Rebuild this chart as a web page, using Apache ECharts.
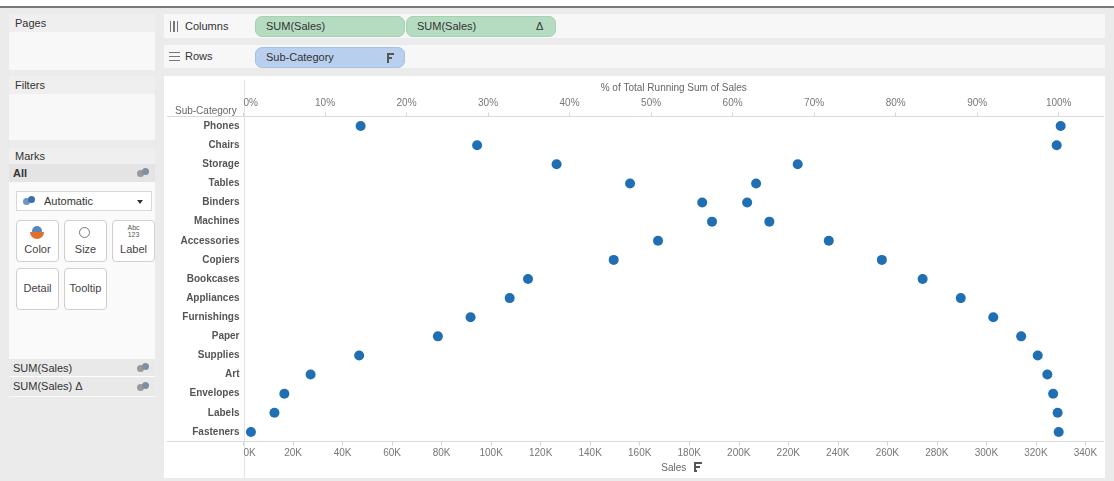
<!DOCTYPE html>
<html><head><meta charset="utf-8">
<script src="https://cdn.jsdelivr.net/npm/echarts@6/dist/echarts.min.js"></script>
<style>
body{margin:0;width:1114px;height:481px;background:#ebebeb;font-family:"Liberation Sans",Arial,sans-serif;font-size:11px;color:#333;overflow:hidden;position:relative}
.a{position:absolute;box-sizing:border-box}
.panel{background:#f8f8f8}
.hdr{position:absolute;left:0;top:0;right:0;background:#efefef;padding-left:6px;color:#333}
.btn{position:absolute;background:#fff;border:1px solid #cfcfcf;border-radius:4px;text-align:center;color:#444;font-size:11px}
.pill{position:absolute;box-sizing:border-box;border-radius:7px;height:21px;line-height:19px;padding-left:10px;color:#333}
.green{background:#b5dcc1;border:1px solid #a3d1b1}
.blue{background:#b9cfee;border:1px solid #a6c0e6}
.dots{position:absolute;width:14px;height:9px}
.dots i{position:absolute;width:7px;height:7px;border-radius:50%}
.sort{position:absolute;width:8px;height:10px}
.sort b{position:absolute;left:0;height:2px;background:#555}
</style></head>
<body>
<div class="a" style="left:0;top:0;width:1114px;height:6px;background:#fff"></div>
<div class="a" style="left:0;top:6px;width:1114px;height:2px;background:#777"></div>

<!-- Pages -->
<div class="a panel" style="left:9px;top:14px;width:146px;height:56px">
  <div class="hdr" style="height:18px;line-height:18px">Pages</div>
</div>
<!-- Filters -->
<div class="a panel" style="left:9px;top:76px;width:146px;height:64px">
  <div class="hdr" style="height:18px;line-height:18px">Filters</div>
</div>
<!-- Marks -->
<div class="a panel" style="left:9px;top:148px;width:146px;height:249px;background:#fafafa">
  <div class="hdr" style="height:16px;line-height:16px">Marks</div>
  <div class="a" style="left:0;top:16px;width:146px;height:18px;background:#e4e4e4;line-height:18px;padding-left:4px;font-weight:bold">All
    <span class="dots" style="left:128px;top:4px"><i style="left:0;top:2px;background:#9a9a9a"></i><i style="left:5px;top:0;background:#7d8fa3"></i></span>
  </div>
  <div class="a" style="left:7px;top:43px;width:136px;height:20px;background:#fff;border:1px solid #d8d8d8;line-height:18px;padding-left:27px;font-size:11px">Automatic
    <span class="dots" style="left:6px;top:4px"><i style="left:0;top:2px;background:#6f95c4"></i><i style="left:5px;top:0;background:#3d6fb0"></i></span>
    <span class="a" style="right:8px;top:8px;width:0;height:0;border-left:3px solid transparent;border-right:3px solid transparent;border-top:4px solid #333"></span>
  </div>
  <div class="btn" style="left:7px;top:72px;width:41px;height:40px">
    <span class="a" style="left:15px;top:5px;width:10px;height:10px;border-radius:50%;background:#5b87bd"></span>
    <span class="a" style="left:13px;top:11px;width:14px;height:7px;border-radius:0 0 7px 7px;background:#e0702b"></span>
    <div class="a" style="left:0;right:0;top:22px">Color</div>
  </div>
  <div class="btn" style="left:55px;top:72px;width:41px;height:40px">
    <span class="a" style="left:14px;top:6px;width:11px;height:11px;border-radius:50%;border:1px solid #777"></span>
    <div class="a" style="left:0;right:0;top:22px">Size</div>
  </div>
  <div class="btn" style="left:103px;top:72px;width:41px;height:40px">
    <div class="a" style="left:0;right:0;top:3px;font-size:7px;line-height:7px;color:#555">Abc<br>123</div>
    <div class="a" style="left:0;right:0;top:22px">Label</div>
  </div>
  <div class="btn" style="left:7px;top:120px;width:41px;height:40px;line-height:38px">Detail</div>
  <div class="btn" style="left:55px;top:120px;width:41px;height:40px;line-height:38px">Tooltip</div>
  <div class="a" style="left:0;top:211px;width:146px;height:18px;background:#e9e9e9;line-height:18px;padding-left:4px;border-bottom:1px solid #fff">SUM(Sales)
    <span class="dots" style="left:128px;top:4px"><i style="left:0;top:2px;background:#9a9a9a"></i><i style="left:5px;top:0;background:#7d8fa3"></i></span>
  </div>
  <div class="a" style="left:0;top:229px;width:146px;height:19px;background:#e9e9e9;line-height:19px;padding-left:4px">SUM(Sales) &#916;
    <span class="dots" style="left:128px;top:5px"><i style="left:0;top:2px;background:#9a9a9a"></i><i style="left:5px;top:0;background:#7d8fa3"></i></span>
  </div>
</div>

<!-- Columns shelf -->
<div class="a" style="left:164px;top:14px;width:941px;height:24px;background:#f7f7f7">
  <span class="a" style="left:6px;top:7px;width:9px;height:11px;background:repeating-linear-gradient(90deg,#777 0 1.5px,transparent 1.5px 3.5px)"></span>
  <span class="a" style="left:21px;top:0;line-height:24px">Columns</span>
</div>
<div class="pill green" style="left:255px;top:16px;width:150px">SUM(Sales)</div>
<div class="pill green" style="left:406px;top:16px;width:150px">SUM(Sales)<span class="a" style="left:129px;top:0">&#916;</span></div>
<!-- Rows shelf -->
<div class="a" style="left:164px;top:45px;width:941px;height:23px;background:#f7f7f7">
  <span class="a" style="left:5px;top:7px;width:11px;height:10px;background:repeating-linear-gradient(180deg,#777 0 1.5px,transparent 1.5px 4px)"></span>
  <span class="a" style="left:21px;top:0;line-height:23px">Rows</span>
</div>
<div class="pill blue" style="left:255px;top:47px;width:150px">Sub-Category
  <span class="sort" style="left:131px;top:5px"><b style="top:0;width:7px"></b><b style="top:4px;width:5px"></b><b style="top:8px;width:2px"></b><b style="top:0;width:2px;height:10px"></b></span>
</div>

<!-- View -->
<div class="a" style="left:164px;top:76px;width:941px;height:402px;background:#fff"></div>

<div id="chart" class="a" style="left:0;top:0;width:1114px;height:481px;z-index:2"></div>
<script>
const categories = ['Phones','Chairs','Storage','Tables','Binders','Machines','Accessories','Copiers','Bookcases','Appliances','Furnishings','Paper','Supplies','Art','Envelopes','Labels','Fasteners'];
const sales = [330000, 328400, 223800, 207000, 203400, 189200, 167400, 149500, 114900, 107500, 91700, 78500, 46700, 27100, 16500, 12500, 3000];
const runningPct = [14.37, 28.66, 38.41, 47.42, 56.27, 64.51, 71.80, 78.31, 83.31, 87.99, 91.98, 95.40, 97.43, 98.61, 99.32, 99.87, 100.0];
const salesTicks = [0,20000,40000,60000,80000,100000,120000,140000,160000,180000,200000,220000,240000,260000,280000,300000,320000,340000];
const pctTicks = [0,10,20,30,40,50,60,70,80,90,100];
const dotColor = '#1f6fb2';

const chart = echarts.init(document.getElementById('chart'));
const labelFont = {fontFamily:'Liberation Sans, Arial, sans-serif', fontSize:10, color:'#777'};
chart.setOption({
  animation:false,
  grid:{left:243.5, right:10, top:116.5, bottom:39.5},
  xAxis:[{
    type:'value', position:'bottom', min:0, max:347500,
    name:'Sales', nameLocation:'middle', nameGap:20,
    nameTextStyle:{fontFamily:'Liberation Sans, Arial, sans-serif', fontSize:10, color:'#666'},
    axisLine:{show:false}, splitLine:{show:false},
    axisTick:{show:true, length:4, lineStyle:{color:'#d6d6d6'}, customValues:salesTicks},
    axisLabel:Object.assign({margin:7, customValues:salesTicks, alignMinLabel:'left', formatter:v=>(v/1000)+'K'}, labelFont)
  },{
    type:'value', position:'top', min:0, max:105.56,
    name:'% of Total Running Sum of Sales', nameLocation:'middle', nameGap:22,
    nameTextStyle:{fontFamily:'Liberation Sans, Arial, sans-serif', fontSize:10, color:'#666'},
    axisLine:{show:false}, splitLine:{show:false},
    axisTick:{show:true, length:4, lineStyle:{color:'#d6d6d6'}, customValues:pctTicks},
    axisLabel:Object.assign({margin:8, customValues:pctTicks, alignMinLabel:'left', formatter:v=>v+'%'}, labelFont)
  }],
  yAxis:{
    type:'category', data:categories, inverse:true,
    axisLine:{show:false}, axisTick:{show:false}, splitLine:{show:false},
    axisLabel:{fontFamily:'Liberation Sans, Arial, sans-serif', fontSize:10, fontWeight:'bold', color:'#555', margin:4}
  },
  series:[{
    type:'scatter', xAxisIndex:0, symbolSize:10, itemStyle:{color:dotColor, opacity:1},
    data:sales.map((v,i)=>[v, categories[i]])
  },{
    type:'scatter', xAxisIndex:1, symbolSize:10, itemStyle:{color:dotColor, opacity:1},
    data:runningPct.map((v,i)=>[v, categories[i]])
  }],
  graphic:[
    {type:'line', shape:{x1:167,y1:116.5,x2:1104,y2:116.5}, style:{stroke:'#dadada',lineWidth:1}, silent:true, z:-1},
    {type:'line', shape:{x1:167,y1:441.5,x2:1104,y2:441.5}, style:{stroke:'#dadada',lineWidth:1}, silent:true, z:-1},
    {type:'line', shape:{x1:244.5,y1:80,x2:244.5,y2:478}, style:{stroke:'#e2e2e2',lineWidth:1}, silent:true, z:-1},
    {type:'text', left:175, top:106, style:{text:'Sub-Category', font:'10px Liberation Sans, Arial, sans-serif', fill:'#666'}},
    {type:'group', left:694, top:462, children:[
      {type:'rect', shape:{x:0,y:0,width:2,height:10}, style:{fill:'#555'}},
      {type:'rect', shape:{x:0,y:0,width:8,height:2}, style:{fill:'#555'}},
      {type:'rect', shape:{x:0,y:4,width:6,height:2}, style:{fill:'#555'}},
      {type:'rect', shape:{x:0,y:8,width:3,height:2}, style:{fill:'#555'}}
    ]}
  ]
});
</script>
</body></html>
